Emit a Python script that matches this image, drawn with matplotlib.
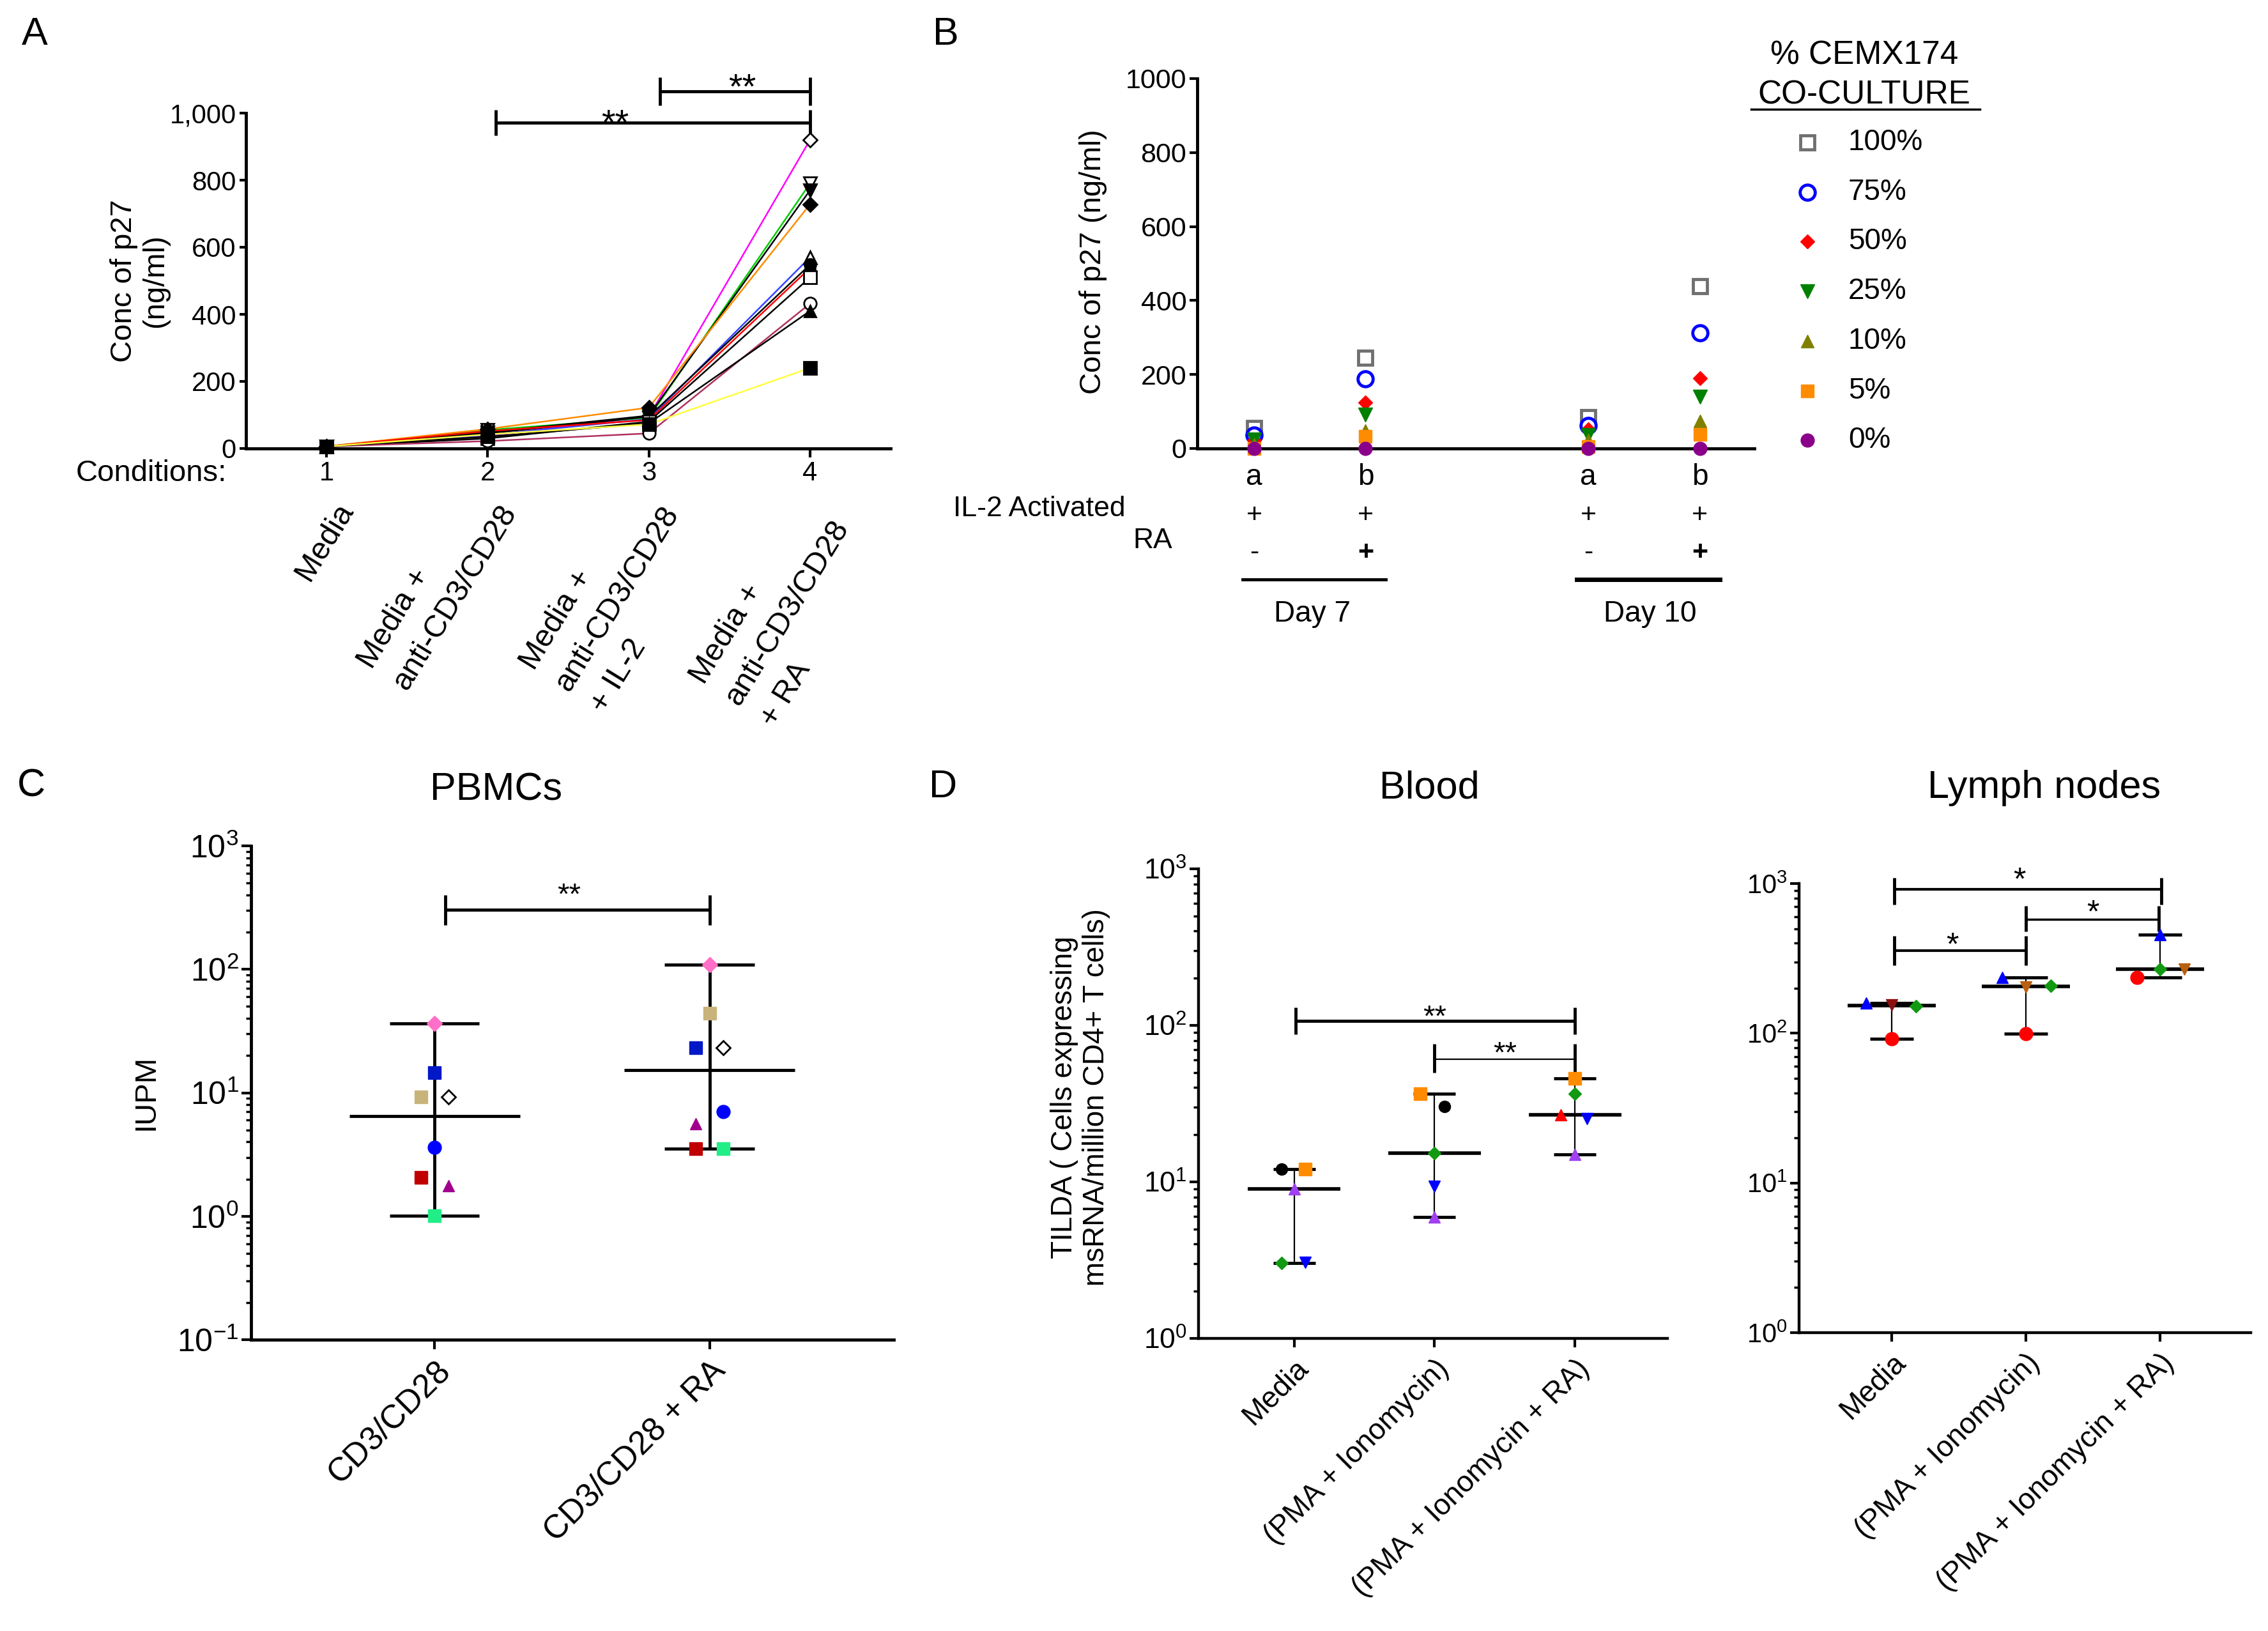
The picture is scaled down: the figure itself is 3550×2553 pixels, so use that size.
import numpy as np
import matplotlib
matplotlib.use('Agg')
import matplotlib.pyplot as plt
from matplotlib.lines import Line2D
import matplotlib.transforms as mtransforms
from matplotlib.ticker import FixedLocator, LogLocator, NullFormatter

plt.rcParams['font.family'] = ['Liberation Sans', 'DejaVu Sans']
plt.rcParams['mathtext.default'] = 'regular'

# ======================= DATA =======================
# Panel A : p27 concentration (ng/ml) per donor over 4 conditions
A_conditions = [1, 2, 3, 4]
A_condition_labels = ['Media', 'Media +\nanti-CD3/CD28', 'Media +\nanti-CD3/CD28\n+ IL-2',
                      'Media +\nanti-CD3/CD28\n+ RA']
A_values = [
    [6, 38, 95, 920],
    [6, 55, 92, 790],
    [6, 48, 98, 770],
    [6, 58, 122, 728],
    [6, 40, 88, 570],
    [6, 45, 95, 548],
    [6, 52, 85, 538],
    [6, 30, 80, 510],
    [6, 22, 45, 432],
    [6, 35, 75, 410],
    [6, 42, 72, 240],
]
A_yticks = [0, 200, 400, 600, 800, 1000]

# Panel B : p27 vs % CEMX174 co-culture
B_categories = ['a', 'b', 'a', 'b']
B_il2 = ['+', '+', '+', '+']
B_ra = ['-', '+', '-', '+']
B_days = ['Day 7', 'Day 10']
B_pct_labels = ['100%', '75%', '50%', '25%', '10%', '5%', '0%']
B_100 = [56, 246, 84, 438]
B_75 = [36, 189, 62, 312]
B_50 = [22, 125, 52, 190]
B_25 = [24, 92, 36, 140]
B_10 = [10, 48, 22, 75]
B_5 = [0, 32, 5, 38]
B_0 = [0, 0, 0, 0]
B_yticks = [0, 200, 400, 600, 800, 1000]

# Panel C : IUPM
C_groups = ['CD3/CD28', 'CD3/CD28 + RA']
C_cd3 = [36.6, 14.6, 9.3, 9.3, 3.6, 2.07, 1.77, 1.01]
C_cd3_ra = [109, 23.3, 43.9, 23.3, 7.07, 3.53, 5.6, 3.53]

# Panel D : TILDA
D_groups = ['Media', '(PMA + Ionomycin)', '(PMA + Ionomycin + RA)']
nan = np.nan
Blood_media = [12.1, 12.1, 9.0, 3.03, 3.07, nan]
Blood_pma = [30.3, 36.6, 5.96, 15.2, 9.4, nan]
Blood_pma_ra = [nan, 45.7, 15.0, 36.6, 25.3, 26.8]
LN_media = [160, 154, 151, 92]
LN_pma = [235, 204, 207, 99.6]
LN_pma_ra = [457, 267, 267, 237]

# ======================= STYLE / LAYOUT =======================
W, H = 3550, 2553
fig = plt.figure(figsize=(35.5, 25.53), dpi=100)


def fx(x):
    return x / W


def fy(y):
    return 1 - y / H


def axpx(l, t, r, b):
    return fig.add_axes([l / W, 1 - b / H, (r - l) / W, (b - t) / H])


def style_axes(ax, lw=3.5):
    for s in ['top', 'right']:
        ax.spines[s].set_visible(False)
    for s in ['left', 'bottom']:
        ax.spines[s].set_linewidth(lw)
    ax.patch.set_alpha(0)


def stars(ax, x, y, s, fs):
    tr = mtransforms.offset_copy(ax.transData, fig=fig, x=0, y=-0.58 * fs, units='points')
    ax.text(x, y, s, transform=tr, ha='center', va='baseline', fontsize=fs, clip_on=False)


def sig_bar(ax, x1, x2, y, lo, hi, lw=3.5, vlw=3.5):
    ax.plot([x1, x2], [y, y], color='k', lw=lw, clip_on=False, solid_capstyle='butt')
    for xx in (x1, x2):
        ax.plot([xx, xx], [lo, hi], color='k', lw=vlw, clip_on=False, solid_capstyle='butt')


def med_range(ax, x, vals, hw_med, hw_cap, lw_med, lw_cap, lw_v):
    v = np.asarray(vals, float)
    v = v[~np.isnan(v)]
    med, lo, hi = np.median(v), v.min(), v.max()
    ax.plot([x, x], [lo, hi], color='k', lw=lw_v, zorder=2, solid_capstyle='butt')
    for yy in (lo, hi):
        ax.plot([x - hw_cap, x + hw_cap], [yy, yy], color='k', lw=lw_cap, zorder=2,
                solid_capstyle='butt')
    ax.plot([x - hw_med, x + hw_med], [med, med], color='k', lw=lw_med, zorder=2,
            solid_capstyle='butt')


def sup10(e):
    return r'$\mathregular{10^{%d}}$' % e


# panel letters
for lab, (x, y) in zip('ABCD', [(54, 55), (1480, 54), (49, 1231), (1476, 1232)]):
    fig.text(fx(x), fy(y), lab, ha='center', va='center', fontsize=44)

# ======================= PANEL A =======================
A_colors = ['#FF00FF', '#00CC00', '#000000', '#FF8C00', '#3344FF', '#000000', '#FF0000',
            '#000000', '#B03060', '#000000', '#FFFF40']
A_markers = ['D', 'v', 'v', 'D', '^', 'o', 'h', 's', 'o', '^', 's']
A_filled = [False, False, True, True, False, True, True, False, False, True, True]
A_ms = [11, 14, 14, 11, 14, 13, 13, 14, 14, 13, 14]
A_label_dx = [12, -39, -37, -23]      # pixel offsets of rotated label anchors
A_label_y = [780, 749, 751, 773]

axA = axpx(385, 177, 1394, 702)
style_axes(axA)
for vals, c, m, f, ms in zip(A_values, A_colors, A_markers, A_filled, A_ms):
    axA.plot(A_conditions, vals, color=c, lw=1.8, marker=m, ms=ms,
             mfc='black' if f else 'white', mec='black', mew=2, clip_on=False, zorder=3)
axA.set_xlim(0.5, 4.5)
axA.set_ylim(0, 1000)
axA.set_yticks(A_yticks)
axA.set_yticklabels(['{:,}'.format(v) for v in A_yticks])
axA.set_xticks(A_conditions)
axA.set_xticklabels([str(c) for c in A_conditions])
axA.tick_params(axis='y', length=7, width=3, labelsize=30, pad=4)
axA.tick_params(axis='x', length=10, width=3, labelsize=30, pad=4)
fig.text(fx(355), fy(741), 'Conditions:', ha='right', va='center', fontsize=34)
tA = mtransforms.blended_transform_factory(axA.transData, fig.transFigure)
for x, lab, dx, yy in zip(A_conditions, A_condition_labels, A_label_dx, A_label_y):
    tr = mtransforms.offset_copy(tA, fig=fig, x=dx, y=0, units='dots')
    axA.text(x, fy(yy), lab, transform=tr, rotation=58.5, ha='right', va='top',
             rotation_mode='anchor', multialignment='left', fontsize=35, linespacing=1.55)
fig.text(fx(219), fy(440), 'Conc of p27\n(ng/ml)', rotation=90, ha='center', va='center',
         fontsize=34, linespacing=1.15)
sig_bar(axA, 2.05, 4, 971, 933, 1010)
sig_bar(axA, 3.07, 4, 1065, 1023, 1107)
stars(axA, 2.79, 1000, '**', 40)
stars(axA, 3.58, 1107, '**', 40)

# ======================= PANEL B =======================
B_positions = [1, 2, 4, 5]
B_series = [B_100, B_75, B_50, B_25, B_10, B_5, B_0]
B_styles = [
    dict(marker='s', ms=16, mfc='white', mec='#707070', mew=3.5),
    dict(marker='o', ms=17, mfc='white', mec='#0000FF', mew=3.5),
    dict(marker='D', ms=11, mfc='#FF0000', mec='#FF0000', mew=1),
    dict(marker='v', ms=16, mfc='#008000', mec='#008000', mew=1),
    dict(marker='^', ms=15, mfc='#808000', mec='#808000', mew=1),
    dict(marker='s', ms=15, mfc='#FF8C00', mec='#FF8C00', mew=1),
    dict(marker='o', ms=15, mfc='#8B008B', mec='#8B008B', mew=1),
]
axB = axpx(1874, 123, 2746, 702)
style_axes(axB)
for vals, st in zip(B_series, B_styles):
    axB.plot(B_positions, vals, ls='none', clip_on=False, zorder=3, **st)
axB.set_xlim(0.49, 5.49)
axB.set_ylim(0, 1000)
axB.set_yticks(B_yticks)
axB.set_xticks([])
axB.tick_params(axis='y', length=9, width=3, labelsize=31, pad=3)
fig.text(fx(1711), fy(410), 'Conc of p27 (ng/ml)', rotation=90, ha='center', va='center',
         fontsize=34)
tB = mtransforms.blended_transform_factory(axB.transData, fig.transFigure)
for x, a, p, r in zip(B_positions, B_categories, B_il2, B_ra):
    axB.text(x, fy(747), a, transform=tB, ha='center', va='center', fontsize=33)
    axB.text(x, fy(807), p, transform=tB, ha='center', va='center', fontsize=31)
    axB.text(x, fy(865), r, transform=tB, ha='center', va='center', fontsize=31,
             fontweight='bold' if r == '+' else 'normal')
fig.text(fx(1492), fy(797), 'IL-2 Activated', ha='left', va='center', fontsize=32)
fig.text(fx(1773), fy(847), 'RA', ha='left', va='center', fontsize=32)
for (x1, x2), lw, lab, xc in zip([(1945, 2169), (2468, 2692)], [3.5, 5], B_days, [2054, 2583]):
    fig.add_artist(Line2D([fx(x1), fx(x2)], [fy(907), fy(907)], color='k', lw=lw,
                          transform=fig.transFigure))
    fig.text(fx(xc), fy(961), lab, ha='center', va='center', fontsize=33)
# legend
fig.text(fx(2918), fy(87), '% CEMX174', ha='center', va='center', fontsize=37)
fig.text(fx(2918), fy(149), 'CO-CULTURE', ha='center', va='center', fontsize=37)
fig.add_artist(Line2D([fx(2741), fx(3099)], [fy(171), fy(171)], color='k', lw=2.5,
                      transform=fig.transFigure))
for i, (lab, st) in enumerate(zip(B_pct_labels, B_styles)):
    y = 223 + i * 77.7
    fig.add_artist(Line2D([fx(2829)], [fy(y)], ls='none', transform=fig.transFigure, **st))
    fig.text(fx(2893), fy(y), lab, ha='left', va='center', fontsize=33)

# ======================= PANEL C =======================
C_markers = ['D', 's', 's', 'D', 'o', 's', '^', 's']
C_colors = ['#FF6EC7', '#0018C8', '#C8B47A', 'white', '#0000FF', '#C00000', '#A0008C', '#22EE88']
C_ms = [12, 15, 15, 11, 15, 15, 13, 15]
C_jitter = [[0, 0, -0.05, 0.05, 0, -0.05, 0.05, 0],
            [0, -0.05, 0, 0.05, 0.05, -0.05, -0.05, 0.05]]
axC = axpx(393, 1324, 1399, 2097)
style_axes(axC)
axC.set_yscale('log')
for gi, vals in enumerate([C_cd3, C_cd3_ra]):
    x0 = gi + 1
    med_range(axC, x0, vals, 0.31, 0.163, 3.5, 3.5, 3.5)
    for v, j, m, c, ms in zip(vals, C_jitter[gi], C_markers, C_colors, C_ms):
        axC.plot([x0 + j], [v], marker=m, ms=ms, mfc=c,
                 mec='black' if c == 'white' else c, mew=2 if c == 'white' else 1,
                 ls='none', zorder=3, clip_on=False)
axC.set_xlim(0.333, 2.67)
axC.set_ylim(0.1, 1000)
axC.yaxis.set_major_locator(FixedLocator([0.1, 1, 10, 100, 1000]))
axC.set_yticklabels([sup10(e) for e in [-1, 0, 1, 2, 3]])
axC.yaxis.set_minor_locator(LogLocator(base=10, subs=np.arange(2, 10)))
axC.yaxis.set_minor_formatter(NullFormatter())
axC.set_xticks([1, 2])
axC.set_xticklabels(C_groups, rotation=45, ha='right', rotation_mode='anchor')
axC.tick_params(axis='y', which='major', length=11, width=3, labelsize=36, pad=3)
axC.tick_params(axis='y', which='minor', length=6, width=2.5)
axC.tick_params(axis='x', length=11, width=3, labelsize=37, pad=6)
fig.text(fx(777), fy(1237), 'PBMCs', ha='center', va='center', fontsize=44)
fig.text(fx(229), fy(1710), 'IUPM', rotation=90, ha='center', va='center', fontsize=34)
sig_bar(axC, 1.04, 2.0, 302, 228, 400)
stars(axC, 1.49, 470, '**', 34)

# ======================= PANEL D =======================
Blood_markers = ['o', 's', '^', 'D', 'v', '^']
Blood_colors = ['#000000', '#FF8C00', '#A040F0', '#119911', '#0000FF', '#FF0000']
Blood_ms = [13, 14, 13, 10, 13, 13]
Blood_jitter = [[-0.09, 0.08, 0, -0.09, 0.08, 0],
                [0.07, -0.1, 0, 0, 0, 0],
                [0, 0, 0, 0, 0.085, -0.1]]

LN_markers = ['^', 'v', 'D', 'o']
LN_colors = [['#0000FF', '#8B1010', '#119911', '#FF0000'],
             ['#0000FF', '#B8600F', '#119911', '#FF0000'],
             ['#0000FF', '#B8600F', '#119911', '#FF0000']]
LN_ms = [13, 13, 10, 15]
LN_jitter = [[-0.19, 0, 0.18, 0],
             [-0.175, 0, 0.185, 0],
             [0, 0.18, 0, -0.17]]


def log_axis(ax, labelsize=32):
    ax.set_yscale('log')
    ax.set_ylim(1, 1000)
    ax.yaxis.set_major_locator(FixedLocator([1, 10, 100, 1000]))
    ax.set_yticklabels([sup10(e) for e in [0, 1, 2, 3]])
    ax.yaxis.set_minor_locator(LogLocator(base=10, subs=np.arange(2, 10)))
    ax.yaxis.set_minor_formatter(NullFormatter())
    ax.set_xticks([1, 2, 3])
    ax.set_xticklabels(D_groups, rotation=45, ha='right', rotation_mode='anchor')
    ax.tick_params(axis='y', which='major', length=10, width=3, labelsize=labelsize, pad=3)
    ax.tick_params(axis='y', which='minor', length=6, width=2.5)
    ax.tick_params(axis='x', length=10, width=3, labelsize=33, pad=8)


axD1 = axpx(1876, 1360, 2610, 2095)
style_axes(axD1, 3.2)
log_axis(axD1)
for gi, vals in enumerate([Blood_media, Blood_pma, Blood_pma_ra]):
    x0 = gi + 1
    med_range(axD1, x0, vals, 0.33, 0.15, 4, 3.5, 1.6)
    for v, j, m, c, ms in zip(vals, Blood_jitter[gi], Blood_markers, Blood_colors, Blood_ms):
        if np.isnan(v):
            continue
        axD1.plot([x0 + j], [v], marker=m, ms=ms, mfc=c, mec=c, ls='none', zorder=3,
                  clip_on=False)
axD1.set_xlim(0.318, 3.66)
sig_bar(axD1, 1.01, 3.0, 107, 88, 130, lw=3.5, vlw=3.5)
sig_bar(axD1, 2.0, 3.0, 61, 50, 76, lw=1.6, vlw=3.5)
stars(axD1, 2.0, 128, '**', 34)
stars(axD1, 2.5, 75, '**', 34)
fig.text(fx(2237), fy(1234), 'Blood', ha='center', va='center', fontsize=44)
fig.text(fx(1691), fy(1718), 'TILDA ( Cells expressing\nmsRNA/million CD4+ T cells)',
         rotation=90, ha='center', va='center', fontsize=33, linespacing=1.15)

axD2 = axpx(2816, 1383, 3523, 2086)
style_axes(axD2, 3.2)
log_axis(axD2, 30)
for gi, vals in enumerate([LN_media, LN_pma, LN_pma_ra]):
    x0 = gi + 1
    med_range(axD2, x0, vals, 0.33, 0.16, 4, 3.5, 1.6)
    for v, j, m, c, ms in zip(vals, LN_jitter[gi], LN_markers, LN_colors[gi], LN_ms):
        axD2.plot([x0 + j], [v], marker=m, ms=ms, mfc=c, mec=c, ls='none', zorder=3,
                  clip_on=False)
axD2.set_xlim(0.31, 3.676)
sig_bar(axD2, 1.02, 3.01, 918, 722, 1090, lw=3, vlw=3.5)
sig_bar(axD2, 2.0, 2.99, 576, 477, 709, lw=2.5, vlw=3.5)
sig_bar(axD2, 1.02, 2.0, 357, 284, 447, lw=3, vlw=3.5)
stars(axD2, 1.95, 1210, '*', 36)
stars(axD2, 2.5, 735, '*', 36)
stars(axD2, 1.45, 447, '*', 36)
fig.text(fx(3200), fy(1234), 'Lymph nodes', ha='center', va='center', fontsize=44)

fig.savefig('out.png', dpi=100)
